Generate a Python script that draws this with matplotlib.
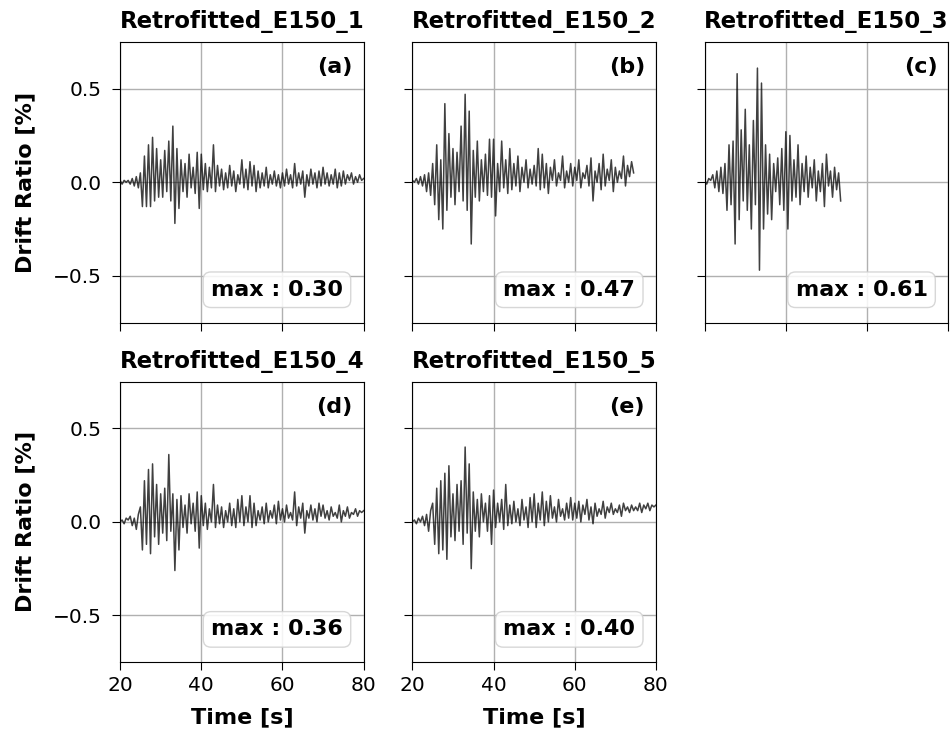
import numpy as np
import matplotlib
matplotlib.use('Agg')
import matplotlib.pyplot as plt

# 层间位移角时程 (每 0.5 s 读取一个峰值点)
dt = 0.5
t_start = 20.0

titles = ['Retrofitted_E150_1', 'Retrofitted_E150_2', 'Retrofitted_E150_3',
          'Retrofitted_E150_4', 'Retrofitted_E150_5']
panel_tags = ['(a)', '(b)', '(c)', '(d)', '(e)']
max_labels = ['0.30', '0.47', '0.61', '0.36', '0.40']

drift_1 = [
    0.01, -0.01, 0.01, 0.00, 0.01, -0.01, 0.02, -0.02, 0.03, -0.03,
    0.05, -0.13, 0.14, -0.13, 0.20, -0.13, 0.24, -0.10, 0.18, -0.08,
    0.12, -0.08, 0.17, -0.05, 0.22, -0.10, 0.30, -0.22, 0.18, -0.14,
    0.12, -0.05, 0.10, -0.08, 0.15, -0.03, 0.08, -0.06, 0.16, -0.14,
    0.15, -0.04, 0.10, -0.05, 0.08, -0.03, 0.20, -0.05, 0.09, -0.02,
    0.07, -0.04, 0.05, -0.03, 0.09, -0.02, 0.06, -0.05, 0.04, -0.01,
    0.12, -0.03, 0.07, -0.04, 0.11, -0.02, 0.09, -0.05, 0.06, -0.03,
    0.05, -0.02, 0.08, -0.03, 0.04, -0.01, 0.06, -0.02, 0.04, -0.03,
    0.05, -0.02, 0.07, -0.01, 0.04, -0.03, 0.10, -0.02, 0.05, -0.01,
    0.06, -0.08, 0.04, -0.02, 0.07, -0.01, 0.05, -0.03, 0.06, -0.02,
    0.08, -0.01, 0.05, -0.02, 0.04, -0.01, 0.07, -0.03, 0.05, -0.02,
    0.06, -0.01, 0.04, 0.01, 0.05, -0.01, 0.03, 0.00, 0.04, 0.01,
    0.02,
]

drift_2 = [
    0.01, 0.00, 0.02, -0.01, 0.03, -0.02, 0.04, -0.05, 0.05, -0.07,
    0.10, -0.12, 0.20, -0.20, 0.12, -0.25, 0.42, -0.15, 0.26, -0.08,
    0.18, -0.12, 0.16, -0.05, 0.30, -0.10, 0.47, -0.15, 0.38, -0.33,
    0.17, -0.08, 0.22, -0.10, 0.12, -0.05, 0.15, -0.07, 0.23, -0.08,
    0.23, -0.18, 0.10, -0.05, 0.22, -0.03, 0.12, -0.06, 0.18, -0.04,
    0.10, -0.02, 0.14, -0.05, 0.08, 0.00, 0.12, -0.03, 0.07, -0.01,
    0.09, -0.02, 0.18, -0.04, 0.15, -0.03, 0.10, -0.06, 0.08, 0.01,
    0.12, -0.02, 0.05, 0.01, 0.14, -0.03, 0.06, 0.00, 0.10, -0.02,
    0.08, 0.01, 0.12, -0.03, 0.05, 0.02, 0.09, -0.02, 0.13, -0.10,
    0.06, 0.00, 0.10, -0.04, 0.15, -0.02, 0.07, 0.01, 0.12, -0.05,
    0.08, 0.00, 0.06, 0.02, 0.14, -0.02, 0.09, 0.03, 0.11, 0.05,
]

drift_3 = [
    0.01, -0.01, 0.02, 0.01, 0.04, -0.03, 0.06, -0.05, 0.08, -0.06,
    0.10, -0.15, 0.20, -0.12, 0.22, -0.33, 0.58, -0.20, 0.28, -0.10,
    0.39, -0.15, 0.20, -0.25, 0.33, -0.12, 0.61, -0.47, 0.53, -0.25,
    0.20, -0.17, 0.15, -0.20, 0.10, -0.05, 0.13, -0.12, 0.18, -0.15,
    0.27, -0.25, 0.25, -0.10, 0.12, -0.08, 0.20, -0.12, 0.10, -0.05,
    0.14, -0.08, 0.08, -0.03, 0.12, -0.10, 0.06, -0.05, 0.10, -0.13,
    0.15, -0.02, 0.06, -0.08, 0.08, -0.04, 0.05, -0.10,
]

drift_4 = [
    0.00, 0.01, -0.01, 0.02, 0.01, 0.03, -0.02, 0.02, -0.04, 0.04,
    0.08, -0.15, 0.22, -0.12, 0.28, -0.17, 0.31, -0.08, 0.20, -0.12,
    0.15, -0.06, 0.18, -0.10, 0.36, -0.05, 0.15, -0.26, 0.12, -0.15,
    0.14, -0.03, 0.09, -0.06, 0.15, -0.01, 0.10, -0.05, 0.16, -0.14,
    0.14, -0.02, 0.10, -0.04, 0.07, 0.00, 0.20, -0.03, 0.09, -0.01,
    0.08, -0.03, 0.06, 0.00, 0.10, -0.02, 0.07, -0.03, 0.12, 0.00,
    0.14, -0.02, 0.08, 0.00, 0.14, -0.03, 0.10, -0.02, 0.06, 0.01,
    0.08, -0.01, 0.10, 0.00, 0.06, 0.02, 0.09, -0.01, 0.11, 0.01,
    0.07, 0.00, 0.09, 0.02, 0.05, 0.01, 0.16, -0.02, 0.08, 0.02,
    0.10, -0.06, 0.06, 0.02, 0.09, 0.01, 0.07, 0.00, 0.10, 0.03,
    0.09, 0.02, 0.06, 0.01, 0.08, 0.03, 0.05, 0.02, 0.09, 0.00,
    0.06, 0.03, 0.08, 0.02, 0.05, 0.04, 0.07, 0.03, 0.06, 0.05,
    0.06,
]

drift_5 = [
    0.00, 0.01, -0.01, 0.02, 0.00, 0.03, -0.02, 0.04, -0.05, 0.06,
    0.10, -0.12, 0.18, -0.17, 0.22, -0.15, 0.26, -0.20, 0.30, -0.08,
    0.15, -0.10, 0.20, -0.05, 0.22, -0.12, 0.40, -0.06, 0.31, -0.25,
    0.16, -0.05, 0.12, -0.08, 0.15, 0.00, 0.10, -0.05, 0.14, -0.12,
    0.17, -0.03, 0.10, 0.00, 0.12, -0.04, 0.20, -0.02, 0.09, -0.01,
    0.11, 0.00, 0.07, -0.02, 0.12, 0.01, 0.08, -0.03, 0.13, 0.00,
    0.15, -0.03, 0.10, 0.01, 0.16, -0.02, 0.11, 0.00, 0.14, 0.02,
    0.08, 0.00, 0.12, 0.03, 0.07, 0.01, 0.10, 0.02, 0.13, 0.01,
    0.10, 0.02, 0.11, 0.00, 0.09, 0.04, 0.12, 0.01, 0.08, -0.01,
    0.10, 0.03, 0.07, 0.04, 0.11, 0.02, 0.08, 0.05, 0.10, 0.04,
    0.07, 0.05, 0.09, 0.03, 0.10, 0.06, 0.08, 0.05, 0.09, 0.06,
    0.08, 0.06, 0.10, 0.05, 0.09, 0.07, 0.10, 0.06, 0.09, 0.08,
    0.09,
]

series = [drift_1, drift_2, drift_3, drift_4, drift_5]

fig, axes = plt.subplots(2, 3, figsize=(9.53, 7.35), dpi=100, sharex=True, sharey=True)
fig.subplots_adjust(left=0.126, right=0.995, top=0.943, bottom=0.099,
                    wspace=0.2, hspace=0.21)

for i, ax in enumerate(axes.flat[:5]):
    y = np.array(series[i])
    t = t_start + dt * np.arange(len(y))
    ax.plot(t, y, color='black', lw=1.1, alpha=0.75)
    ax.set_xlim(20, 80)
    ax.set_ylim(-0.75, 0.75)
    ax.set_xticks([20, 40, 60, 80])
    ax.set_yticks([-0.5, 0.0, 0.5])
    ax.grid(True, color='#b0b0b0', lw=1.0)
    ax.tick_params(labelsize=14.5, length=6)
    ax.tick_params(axis='y', pad=7)
    ax.tick_params(axis='x', pad=4)
    ax.set_title(titles[i], fontsize=16.5, fontweight='bold', pad=10)
    ax.text(0.955, 0.91, panel_tags[i], transform=ax.transAxes, ha='right', va='center',
            fontsize=16, fontweight='bold')
    ax.text(0.915, 0.117, 'max : ' + max_labels[i], transform=ax.transAxes,
            ha='right', va='center', fontsize=16, fontweight='bold',
            bbox=dict(boxstyle='round,pad=0.35', fc='white', ec='#d0d0d0', alpha=0.85))

axes[1, 2].remove()
axes[0, 2].tick_params(labelbottom=False)

for ax in axes[:, 0]:
    ax.set_ylabel('Drift Ratio [%]', fontsize=16, fontweight='bold', labelpad=13)
for ax in [axes[1, 0], axes[1, 1]]:
    ax.set_xlabel('Time [s]', fontsize=16, fontweight='bold', labelpad=9)

plt.savefig('out.png', dpi=100)
plt.close()
